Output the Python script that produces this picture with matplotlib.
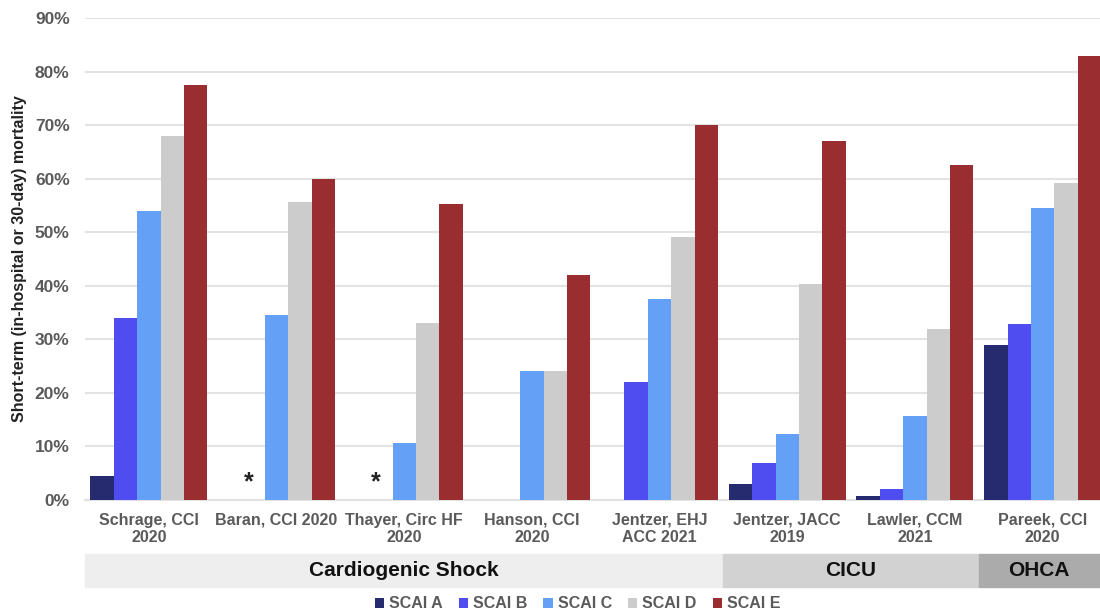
import matplotlib.pyplot as plt
import matplotlib.transforms as mtransforms
from matplotlib.patches import Rectangle
import numpy as np

plt.rcParams['font.family'] = ['Liberation Sans', 'DejaVu Sans']

studies = ["Schrage, CCI\n2020", "Baran, CCI 2020", "Thayer, Circ HF\n2020",
           "Hanson, CCI\n2020", "Jentzer, EHJ\nACC 2021", "Jentzer, JACC\n2019",
           "Lawler, CCM\n2021", "Pareek, CCI\n2020"]
stages = ["SCAI A", "SCAI B", "SCAI C", "SCAI D", "SCAI E"]

# mortality %, NaN = not reported
scai_a = [4.5, np.nan, np.nan, np.nan, np.nan, 3.0, 0.8, 28.9]
scai_b = [34.0, np.nan, np.nan, np.nan, 22.0, 7.0, 2.1, 32.9]
scai_c = [54.0, 34.5, 10.6, 24.0, 37.5, 12.4, 15.7, 54.5]
scai_d = [68.0, 55.7, 33.0, 24.0, 49.1, 40.4, 32.0, 59.2]
scai_e = [77.4, 60.0, 55.2, 42.0, 70.0, 67.0, 62.5, 82.9]

# groups of studies: (label, first index, last index)
settings = [("Cardiogenic Shock", 0, 4), ("CICU", 5, 6), ("OHCA", 7, 7)]
band_colors = ["#eeeeee", "#d2d2d2", "#ababab"]

# studies where stage A/B was not reported (asterisk)
star_idx = [1, 2]

colors = ["#262a6e", "#4f4cf0", "#64a0f5", "#cccccc", "#992d2f"]

fig = plt.figure(figsize=(11, 6.16), dpi=100)
ax = fig.add_axes([85 / 1100, 116 / 616, 1 - 85 / 1100, 482 / 616])

x = np.arange(len(studies))
w = 0.183
series = [scai_a, scai_b, scai_c, scai_d, scai_e]
for i, (vals, c, lab) in enumerate(zip(series, colors, stages)):
    ax.bar(x + (i - 2) * w, vals, width=w, color=c, label=lab, zorder=3)

for i in star_idx:
    ax.text(i - 1.2 * w, 1.0, "*", ha="center", va="bottom", fontsize=18,
            fontweight="bold", color="#222222")

ax.set_xlim(-0.5, 7.45)
ax.set_ylim(0, 90)
ax.set_yticks(np.arange(0, 91, 10))
ax.set_yticklabels([f"{v}%" for v in range(0, 91, 10)])
ax.yaxis.grid(True, color="#e3e3e3", linewidth=1.5, zorder=0)
ax.set_axisbelow(True)
for s in ["top", "right", "left"]:
    ax.spines[s].set_visible(False)
ax.spines["bottom"].set_color("#e3e3e3")
ax.spines["bottom"].set_linewidth(1.5)
ax.tick_params(axis="both", length=0)
ax.tick_params(axis="y", pad=11, labelsize=12.5, labelcolor="#5a5a5a")
ax.tick_params(axis="x", pad=9, labelsize=11.5, labelcolor="#5a5a5a")
ax.set_xticks(x)
ax.set_xticklabels(studies, fontweight="bold", linespacing=1.25)
for t in ax.get_yticklabels():
    t.set_fontweight("bold")

ax.set_ylabel("Short-term (in-hospital or 30-day) mortality", fontsize=11.5,
              fontweight="bold", color="#222222", labelpad=6)

# setting bands below the tick labels
trans = mtransforms.blended_transform_factory(ax.transData, ax.transAxes)
for (name, a, b), bc in zip(settings, band_colors):
    left = a - 0.5
    right = b + 0.5
    ax.add_patch(Rectangle((left, -0.1805), right - left, 0.0685,
                           transform=trans, color=bc, clip_on=False, zorder=1))
    cx = (left + min(right, 7.45)) / 2
    ax.text(cx, -0.146, name, transform=trans, ha="center", va="center",
            fontsize=15, fontweight="bold", color="#111111")

leg = fig.legend(loc="center", bbox_to_anchor=(0.525, 12 / 616), ncol=5,
                 frameon=False, handlelength=0.6, handleheight=0.6,
                 handletextpad=0.3, columnspacing=1.0, fontsize=11.5)
for t in leg.get_texts():
    t.set_fontweight("bold")
    t.set_color("#5a5a5a")

fig.savefig("out.png", dpi=100)
